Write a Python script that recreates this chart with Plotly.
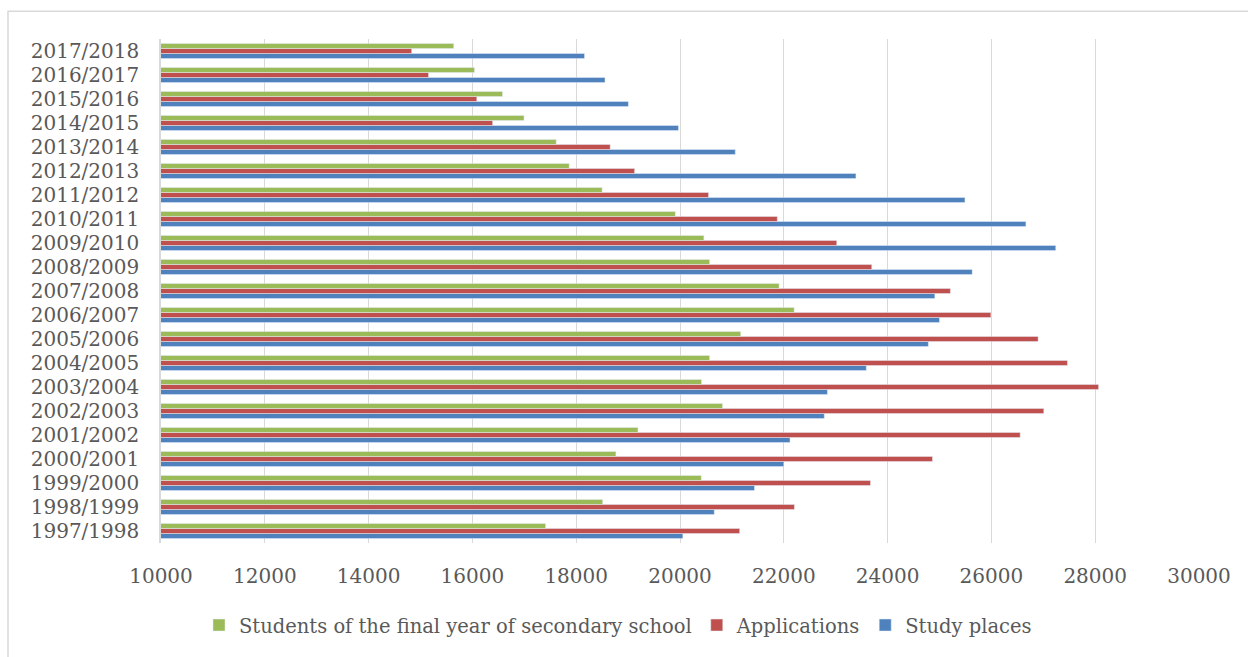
import plotly.graph_objects as go

# Academic years, oldest first (plotted bottom to top)
years = [
    "1997/1998", "1998/1999", "1999/2000", "2000/2001", "2001/2002",
    "2002/2003", "2003/2004", "2004/2005", "2005/2006", "2006/2007",
    "2007/2008", "2008/2009", "2009/2010", "2010/2011", "2011/2012",
    "2012/2013", "2013/2014", "2014/2015", "2015/2016", "2016/2017",
    "2017/2018",
]

study_places = [
    20055, 20660, 21435, 22000, 22120,
    22780, 22840, 23590, 24785, 25000,
    24910, 25630, 27240, 26665, 25490,
    23390, 21065, 19970, 19005, 18555,
    18160,
]

applications = [
    21150, 22205, 23670, 24865, 26555,
    27010, 28065, 27465, 26900, 25990,
    25210, 23695, 23020, 21875, 20550,
    19125, 18655, 16390, 16085, 15155,
    14830,
]

final_year_students = [
    17410, 18510, 20410, 18765, 19190,
    20820, 20415, 20570, 21170, 22200,
    21910, 20570, 20460, 19910, 18500,
    17865, 17615, 16995, 16580, 16040,
    15640,
]

x_ticks = [10000, 12000, 14000, 16000, 18000, 20000, 22000, 24000, 26000, 28000, 30000]

# Figure geometry (pixels)
W, H = 1248, 657
ML, MR, MT, MB = 161, 49, 39, 110
PW, PH = W - ML - MR, H - MT - MB

TEXT = "#595959"
GRID = "#d9d9d9"
FONT = "DejaVu Serif, Liberation Serif, serif"
TICK_SIZE = 20

fig = go.Figure()
fig.add_trace(go.Bar(y=years, x=study_places, orientation="h",
                     name="Study places", marker_color="#4F81BD"))
fig.add_trace(go.Bar(y=years, x=applications, orientation="h",
                     name="Applications", marker_color="#C0504D"))
fig.add_trace(go.Bar(y=years, x=final_year_students, orientation="h",
                     name="Students of the final year of secondary school",
                     marker_color="#9BBB59"))


def px_x(p):
    return (p - ML) / PW


def px_y(p):
    return (H - MB - p) / PH


# thin chart-area frame (left and top edges visible)
fig.add_shape(type="rect", xref="paper", yref="paper",
              x0=px_x(8), x1=px_x(W + 20), y0=px_y(H + 20), y1=px_y(11),
              line=dict(color=GRID, width=1.5), fillcolor="rgba(0,0,0,0)",
              layer="below")

fig.update_layout(
    width=W, height=H,
    margin=dict(l=ML, r=MR, t=MT, b=MB, pad=0),
    paper_bgcolor="white", plot_bgcolor="white",
    barmode="group", bargap=0.37, bargroupgap=0,
    font=dict(family=FONT, color=TEXT, size=20),
    xaxis=dict(range=[10000, 30000], tickmode="array", tickvals=x_ticks,
               ticktext=[str(v) for v in x_ticks],
               showgrid=True, gridcolor=GRID, gridwidth=1.3,
               zeroline=False, showline=False, ticks="",
               ticklabelstandoff=19,
               tickfont=dict(size=TICK_SIZE, family=FONT, color=TEXT)),
    yaxis=dict(type="category", categoryorder="array", categoryarray=years,
               tickmode="array", tickvals=years, ticktext=years,
               showgrid=False, showline=True, linecolor=GRID, linewidth=1.5,
               ticks="", ticklabelstandoff=16,
               tickfont=dict(size=TICK_SIZE, family=FONT, color=TEXT)),
    legend=dict(orientation="h", traceorder="reversed",
                x=px_x(199), xanchor="left",
                y=px_y(630), yanchor="middle",
                font=dict(size=19.5, family=FONT, color=TEXT),
                itemwidth=30, bgcolor="rgba(0,0,0,0)"),
    showlegend=True,
)

fig.write_html("out.html")
